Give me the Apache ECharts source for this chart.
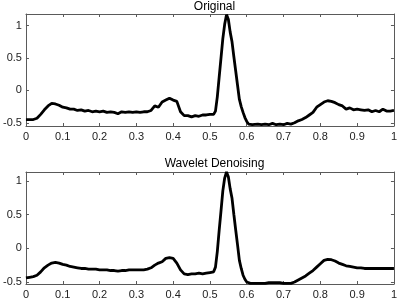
<!DOCTYPE html>
<html>
<head>
<meta charset="utf-8">
<script src="https://cdn.jsdelivr.net/npm/echarts@6/dist/echarts.min.js"></script>
<style>
  html, body { margin: 0; padding: 0; background: #fff; }
  #chart { width: 400px; height: 302px; }
</style>
</head>
<body>
<div id="chart"></div>
<script>
// 时间轴 (0 ~ 1), QRS 段加密采样
const times = [
  0.00, 0.01, 0.02, 0.03, 0.04, 0.05, 0.06, 0.07, 0.08, 0.09,
  0.10, 0.11, 0.12, 0.13, 0.14, 0.15, 0.16, 0.17, 0.18, 0.19,
  0.20, 0.21, 0.22, 0.23, 0.24, 0.25, 0.26, 0.27, 0.28, 0.29,
  0.30, 0.31, 0.32, 0.33, 0.34, 0.35, 0.36, 0.37, 0.38, 0.39,
  0.40, 0.41, 0.42, 0.43, 0.44, 0.45, 0.46, 0.47, 0.48, 0.49,
  0.50, 0.505, 0.51, 0.515, 0.52, 0.525, 0.53, 0.535, 0.54, 0.545,
  0.55, 0.555, 0.56, 0.565, 0.57, 0.575, 0.58, 0.585, 0.59, 0.595,
  0.60, 0.605, 0.61, 0.615, 0.62, 0.63, 0.64, 0.65, 0.66, 0.67,
  0.68, 0.69, 0.70, 0.71, 0.72, 0.73, 0.74, 0.75, 0.76, 0.77,
  0.78, 0.79, 0.80, 0.81, 0.82, 0.83, 0.84, 0.85, 0.86, 0.87,
  0.88, 0.89, 0.90, 0.91, 0.92, 0.93, 0.94, 0.95, 0.96, 0.97,
  0.98, 0.99, 1.00
];
// 原始信号
const original = [
  -0.45, -0.45, -0.45, -0.43, -0.37, -0.30, -0.24, -0.20, -0.21, -0.23,
  -0.26, -0.27, -0.29, -0.29, -0.31, -0.30, -0.32, -0.31, -0.33, -0.32,
  -0.33, -0.32, -0.34, -0.33, -0.34, -0.36, -0.33, -0.34, -0.33, -0.34,
  -0.33, -0.34, -0.33, -0.33, -0.31, -0.24, -0.26, -0.18, -0.15, -0.12,
  -0.15, -0.17, -0.33, -0.39, -0.39, -0.41, -0.39, -0.40, -0.38, -0.38,
  -0.37, -0.38, -0.37, -0.32, -0.10, 0.20, 0.50, 0.80, 1.02, 1.17,
  1.10, 0.90, 0.75, 0.52, 0.30, 0.08, -0.14, -0.25, -0.34, -0.42,
  -0.48, -0.52, -0.54, -0.53, -0.53, -0.52, -0.53, -0.52, -0.53, -0.51,
  -0.53, -0.52, -0.53, -0.51, -0.52, -0.50, -0.47, -0.45, -0.42, -0.38,
  -0.34, -0.26, -0.22, -0.18, -0.16, -0.17, -0.19, -0.22, -0.24, -0.29,
  -0.27, -0.30, -0.29, -0.30, -0.31, -0.30, -0.33, -0.31, -0.33, -0.29,
  -0.32, -0.32, -0.31
];
// 小波去噪后
const denoised = [
  -0.44, -0.43, -0.42, -0.40, -0.35, -0.29, -0.25, -0.22, -0.21, -0.22,
  -0.24, -0.25, -0.27, -0.28, -0.29, -0.30, -0.30, -0.31, -0.31, -0.31,
  -0.32, -0.32, -0.32, -0.33, -0.33, -0.34, -0.33, -0.33, -0.32, -0.32,
  -0.32, -0.32, -0.32, -0.31, -0.29, -0.25, -0.22, -0.20, -0.15, -0.14,
  -0.15, -0.22, -0.32, -0.38, -0.39, -0.38, -0.38, -0.37, -0.38, -0.37,
  -0.36, -0.36, -0.35, -0.28, -0.05, 0.26, 0.55, 0.85, 1.04, 1.13,
  1.06, 0.88, 0.74, 0.50, 0.27, 0.05, -0.18, -0.30, -0.40, -0.46,
  -0.50, -0.52, -0.52, -0.52, -0.52, -0.52, -0.52, -0.52, -0.51, -0.51,
  -0.51, -0.51, -0.52, -0.52, -0.52, -0.50, -0.47, -0.44, -0.41, -0.37,
  -0.33, -0.28, -0.23, -0.18, -0.165, -0.17, -0.19, -0.22, -0.24, -0.26,
  -0.27, -0.28, -0.29, -0.29, -0.30, -0.30, -0.30, -0.30, -0.30, -0.30,
  -0.30, -0.30, -0.30
];
const titles = ['Original', 'Wavelet Denoising'];
const yTicks = [-0.5, 0, 0.5, 1];

const font = 'Liberation Sans, Arial, sans-serif';
const axisColor = '#5a5a5a';
const grids = [
  { left: 24, right: 5, top: 14, height: 112 },
  { left: 24, right: 5, top: 172, height: 112 }
];
const yRange = [[-0.55, 1.18], [-0.53, 1.13]];

const xAxes = [];
const yAxes = [];
grids.forEach((g, i) => {
  ['bottom', 'top'].forEach(pos => {
    xAxes.push({
      type: 'value', gridIndex: i, position: pos, min: 0, max: 1, interval: 0.1,
      axisLine: { onZero: false, lineStyle: { color: axisColor, width: 1 } },
      axisTick: { inside: true, length: 3, lineStyle: { color: axisColor } },
      axisLabel: {
        show: pos === 'bottom', margin: 5, fontSize: 11, fontFamily: font, color: '#222',
        formatter: v => String(+v.toFixed(1))
      },
      splitLine: { show: false }
    });
  });
  ['left', 'right'].forEach(pos => {
    yAxes.push({
      type: 'value', gridIndex: i, position: pos, min: yRange[i][0], max: yRange[i][1],
      axisLine: { show: true, onZero: false, lineStyle: { color: axisColor, width: 1 } },
      axisTick: { inside: true, length: 3, customValues: yTicks, lineStyle: { color: axisColor } },
      axisLabel: {
        show: pos === 'left', customValues: yTicks, margin: 4, fontSize: 11, fontFamily: font, color: '#222'
      },
      splitLine: { show: false }
    });
  });
});

const chart = echarts.init(document.getElementById('chart'), null, { renderer: 'canvas' });
chart.setOption({
  animation: false,
  backgroundColor: '#fff',
  title: titles.map((t, i) => ({
    text: t,
    left: 209.5,
    textAlign: 'center',
    top: i === 0 ? -4 : 153,
    textStyle: { fontSize: 12, fontWeight: 'normal', fontFamily: font, color: '#000' }
  })),
  grid: grids,
  xAxis: xAxes,
  yAxis: yAxes,
  series: [original, denoised].map((vals, i) => ({
    type: 'line',
    xAxisIndex: i * 2,
    yAxisIndex: i * 2,
    data: times.map((t, k) => [t, vals[k]]),
    showSymbol: false,
    lineStyle: { color: '#000', width: 2.8 },
    clip: false
  }))
});
</script>
</body>
</html>
